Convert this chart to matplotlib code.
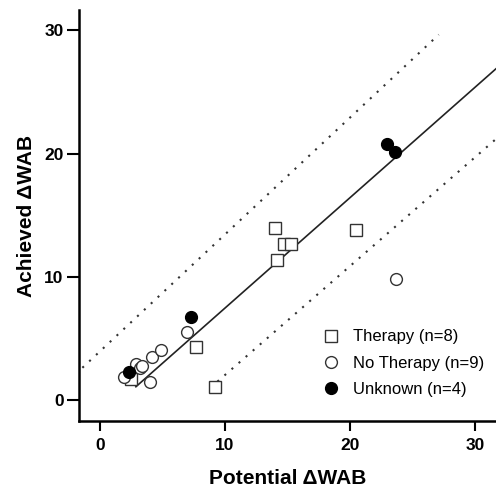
import matplotlib.pyplot as plt
import numpy as np

plt.rcParams['font.family'] = ['Liberation Sans', 'DejaVu Sans']

# data
therapy_x = [2.5, 7.7, 9.2, 14.0, 14.2, 14.7, 15.3, 20.5]
therapy_y = [1.7, 4.3, 1.05, 14.0, 11.4, 12.65, 12.7, 13.8]

no_therapy_x = [1.9, 2.9, 3.2, 3.4, 4.0, 4.2, 4.9, 7.0, 23.7]
no_therapy_y = [1.9, 2.9, 2.6, 2.8, 1.5, 3.5, 4.1, 5.5, 9.8]

unknown_x = [2.3, 7.3, 23.0, 23.6]
unknown_y = [2.3, 6.7, 20.8, 20.1]

# regression line and prediction bounds (end points)
fit_x = [2.88, 31.7]
fit_y = [1.08, 26.9]
upper_x = [-1.4, 27.1]
upper_y = [2.62, 29.65]
lower_x = [9.4, 31.7]
lower_y = [1.5, 21.2]

xticks = [0, 10, 20, 30]
yticks = [0, 10, 20, 30]

fig = plt.figure(figsize=(4.96, 4.87), dpi=100)
ax = fig.add_axes([0.159, 0.1355, 0.841, 0.8435])

ax.plot(fit_x, fit_y, color='#222222', lw=1.2)
ax.plot(upper_x, upper_y, color='#333333', lw=1.5, linestyle=(0, (1, 3.5)))
ax.plot(lower_x, lower_y, color='#333333', lw=1.5, linestyle=(0, (1, 3.5)))

ax.plot(therapy_x, therapy_y, 's', ms=8, mfc='white', mec='#333333', mew=1.0,
        label='Therapy (n=8)')
ax.plot(no_therapy_x, no_therapy_y, 'o', ms=8.5, mfc='white', mec='#333333', mew=1.0,
        label='No Therapy (n=9)')
ax.plot(unknown_x, unknown_y, 'o', ms=8.5, mfc='black', mec='black', mew=1.0,
        label='Unknown (n=4)')

ax.set_xlim(-1.68, 31.68)
ax.set_ylim(-1.7, 31.63)
ax.set_xticks(xticks)
ax.set_yticks(yticks)

for s in ['top', 'right']:
    ax.spines[s].set_visible(False)
for s in ['left', 'bottom']:
    ax.spines[s].set_linewidth(1.8)

ax.tick_params(axis='both', width=1.5, labelsize=12.5)
ax.tick_params(axis='y', length=9, pad=2)
ax.tick_params(axis='x', length=7.5, pad=5)
for lab in ax.get_xticklabels() + ax.get_yticklabels():
    lab.set_fontweight('bold')

ax.set_xlabel('Potential ΔWAB', fontsize=15, fontweight='bold', labelpad=11)
ax.set_ylabel('Achieved ΔWAB', fontsize=15, fontweight='bold', labelpad=6)

leg = ax.legend(loc='lower right', bbox_to_anchor=(1.0, 0.03), frameon=False,
                fontsize=12, handletextpad=0.6, labelspacing=0.68,
                borderaxespad=0.3, handlelength=1.5)

fig.savefig('out.png', dpi=100)
